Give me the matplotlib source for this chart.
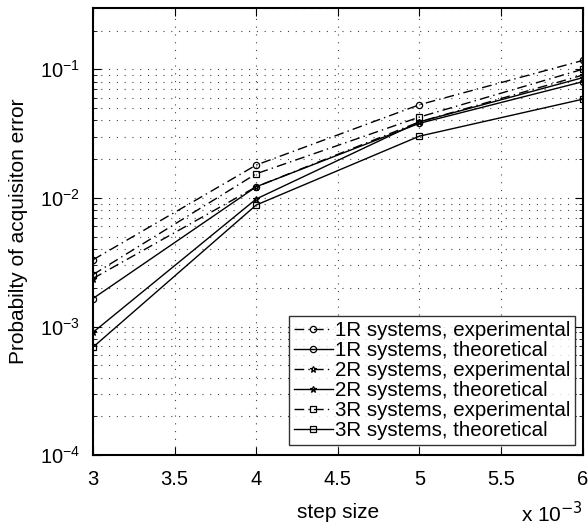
import matplotlib.pyplot as plt
from matplotlib.ticker import LogLocator, NullFormatter

plt.rcParams['font.family'] = ['Liberation Sans', 'DejaVu Sans']

# step size, in units of 1e-3
step = [3, 4, 5, 6]

p_1r_exp = [0.0033, 0.018, 0.053, 0.117]
p_1r_theo = [0.00165, 0.0122, 0.038, 0.080]
p_2r_exp = [0.00236, 0.0122, 0.039, 0.090]
p_2r_theo = [0.0009, 0.0098, 0.039, 0.086]
p_3r_exp = [0.00253, 0.0154, 0.0425, 0.100]
p_3r_theo = [0.00069, 0.0088, 0.0302, 0.0585]

labels = ['1R systems, experimental', '1R systems, theoretical',
          '2R systems, experimental', '2R systems, theoretical',
          '3R systems, experimental', '3R systems, theoretical']

fig = plt.figure(figsize=(5.88, 5.25), dpi=100)
ax = fig.add_axes([0.158, 0.133, 0.833, 0.852])

dashdot = (0, (7, 3, 1, 3))
kw = dict(color='black', linewidth=1.0, markersize=4.5, markerfacecolor='none', markeredgewidth=0.9)
ax.plot(step, p_1r_exp, linestyle=dashdot, marker='o', label=labels[0], **kw)
ax.plot(step, p_1r_theo, linestyle='-', marker='o', label=labels[1], **kw)
ax.plot(step, p_2r_exp, linestyle=dashdot, marker='*', label=labels[2], **kw)
ax.plot(step, p_2r_theo, linestyle='-', marker='*', label=labels[3], **kw)
ax.plot(step, p_3r_exp, linestyle=dashdot, marker='s', label=labels[4], **kw)
ax.plot(step, p_3r_theo, linestyle='-', marker='s', label=labels[5], **kw)

ax.set_yscale('log')
ax.set_xlim(3, 6)
ax.set_ylim(1e-4, 0.3)
ax.set_xticks([3, 3.5, 4, 4.5, 5, 5.5, 6])
ax.set_xticklabels(['3', '3.5', '4', '4.5', '5', '5.5', '6'])
ax.yaxis.set_major_locator(LogLocator(base=10, numticks=10))
ax.yaxis.set_minor_locator(LogLocator(base=10, subs=range(2, 10), numticks=20))
ax.yaxis.set_minor_formatter(NullFormatter())

ax.grid(True, which='major', linestyle=(0, (1, 6)), color='#444444', linewidth=0.8)
ax.grid(True, which='minor', axis='y', linestyle=(0, (1, 6)), color='#444444', linewidth=0.8)

ax.tick_params(which='both', direction='in', top=True, right=True, labelsize=14.5, color='black')
ax.tick_params(which='major', length=6)
ax.tick_params(which='minor', length=3)
ax.tick_params(axis='x', which='major', pad=11)
ax.tick_params(axis='y', which='major', pad=9)
for s in ax.spines.values():
    s.set_linewidth(1.5)

ax.set_xlabel('step size', fontsize=15, labelpad=10)
ax.set_ylabel('Probabilty of acquisiton error', fontsize=15)
ax.yaxis.set_label_coords(-0.133, 0.5)
ax.text(1.0, -0.13, r'x 10$^{-3}$', transform=ax.transAxes, ha='right', va='center', fontsize=15)

leg = ax.legend(loc='lower right', bbox_to_anchor=(0.985, 0.022), fontsize=14.8, frameon=True,
                fancybox=False, edgecolor='black', handlelength=1.9, handletextpad=0.1,
                labelspacing=0.05, borderpad=0.25, borderaxespad=0.0)
leg.get_frame().set_linewidth(1.0)

fig.savefig('out.png', dpi=100)
